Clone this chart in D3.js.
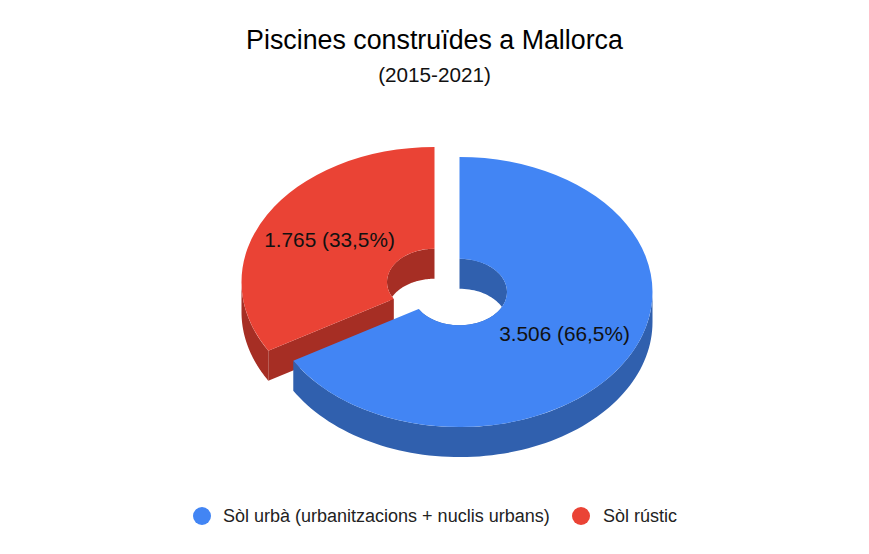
<!DOCTYPE html>
<html><head><meta charset="utf-8">
<script src="https://cdn.jsdelivr.net/npm/d3@7"></script>
<style>html,body{margin:0;padding:0;background:#fff}svg{display:block}text{font-family:"Liberation Sans",Arial,sans-serif}</style>
</head><body><div id="c"></div>
<script>
const categories = ["Sòl urbà (urbanitzacions + nuclis urbans)", "Sòl rústic"];
const values = [3506, 1765];
const valueLabels = ["3.506 (66,5%)", "1.765 (33,5%)"];
const colors = ["#4285f4", "#ea4335"];
const wallColors = ["#3060ae", "#a62e24"];
const title = "Piscines construïdes a Mallorca";
const subtitle = "(2015-2021)";

const W = 869, H = 554;
const rx = 193, squash = 0.7, innerR = 47.5, depth = 30;
const centers = [[459.5, 292], [434.5, 282]];
const labelPos = [[564.5, 340.5], [329.5, 247]];

const svg = d3.select("#c").append("svg").attr("width", W).attr("height", H);
const pie = d3.pie().sort(null).value(d => d);
const arcs = pie(values);
const arc = d3.arc().innerRadius(innerR).outerRadius(rx);

// project a polar point (angle clockwise from 12 o'clock) onto the tilted plane
const project = (c, a, r, dz) => [c[0] + r * Math.sin(a), c[1] - squash * r * Math.cos(a) + dz];
const line = d3.line();
function wall(c, a0, a1, r) {
  const n = 80;
  const as = d3.range(n + 1).map(i => a0 + (a1 - a0) * i / n);
  const pts = as.map(a => project(c, a, r, 0)).concat(as.slice().reverse().map(a => project(c, a, r, depth)));
  return line(pts) + "Z";
}
function cut(c, a) {
  return line([project(c, a, innerR, 0), project(c, a, rx, 0), project(c, a, rx, depth), project(c, a, innerR, depth)]) + "Z";
}

// far slice first (red), then the near slice (blue)
[1, 0].forEach(i => {
  const d = arcs[i], c = centers[i];
  const g = svg.append("g");
  const visOuter0 = Math.max(d.startAngle, Math.PI / 2), visOuter1 = Math.min(d.endAngle, 3 * Math.PI / 2);
  // inner wall
  g.append("path").attr("d", wall(c, d.startAngle, d.endAngle, innerR)).attr("fill", wallColors[i]);
  // outer wall
  g.append("path").attr("d", wall(c, visOuter0, visOuter1, rx)).attr("fill", wallColors[i]);
  // cut faces that look towards the viewer
  if (i === 1) g.append("path").attr("d", cut(c, d.startAngle)).attr("fill", wallColors[i]);
  // top face
  g.append("path")
    .attr("transform", `translate(${c[0]},${c[1]}) scale(1,${squash})`)
    .attr("d", arc(d)).attr("fill", colors[i]);
});

svg.selectAll("text.val").data(valueLabels).join("text").attr("class", "val")
  .attr("x", (d, i) => labelPos[i][0]).attr("y", (d, i) => labelPos[i][1])
  .attr("text-anchor", "middle").attr("font-size", 20.8).attr("fill", "#111").text(d => d);

svg.append("text").attr("x", 434.5).attr("y", 49).attr("text-anchor", "middle")
  .attr("font-size", 26.8).attr("fill", "#000").text(title);
svg.append("text").attr("x", 434.5).attr("y", 82).attr("text-anchor", "middle")
  .attr("font-size", 20.7).attr("fill", "#111").text(subtitle);

const legendX = [[202, 223], [581, 603]];
categories.forEach((t, i) => {
  svg.append("circle").attr("cx", legendX[i][0]).attr("cy", 516).attr("r", 9).attr("fill", colors[i]);
  svg.append("text").attr("x", legendX[i][1]).attr("y", 522).attr("font-size", 18).attr("fill", "#222").text(t);
});
</script></body></html>
